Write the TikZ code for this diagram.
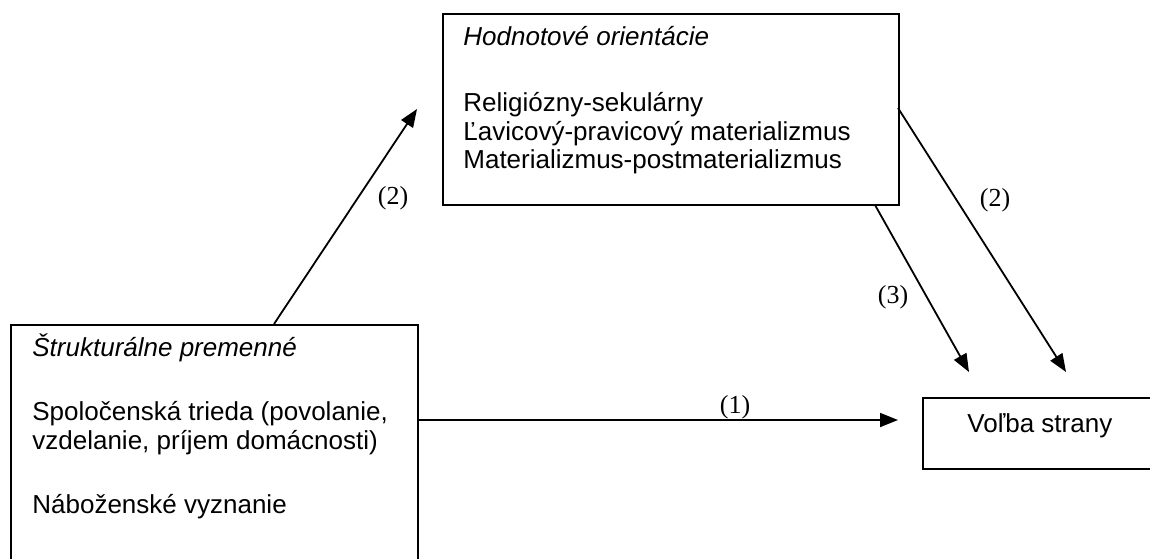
\documentclass[tikz,border=0pt]{standalone}
\usepackage{fontspec}
\setmainfont{Liberation Sans}
\newfontfamily\labfont{Liberation Serif}
\usetikzlibrary{arrows.meta}
\begin{document}
\begin{tikzpicture}[x=0.5pt,y=-0.5pt,
  box/.style={draw,line width=0.9pt,rectangle,inner sep=0pt,anchor=north west},
  txt/.style={anchor=base west,inner sep=0pt,font=\fontsize{13}{15}\selectfont},
  lab/.style={inner sep=0pt,font=\labfont\fontsize{13}{15}\selectfont},
  conn/.style={line width=0.9pt,-{Triangle[length=9pt,width=7pt]}}]
\useasboundingbox (0,0) rectangle (1150,558);
\begin{scope}
\clip (0,0) rectangle (1150,558);
\node[box,minimum width=228pt,minimum height=95.5pt] (top) at (442,13) {};
\node[box,minimum width=203.5pt,minimum height=130pt] (left) at (10,324) {};
\node[box,minimum width=130pt,minimum height=35.5pt] (vol) at (922,397) {};
\end{scope}
\node[txt] (t1) at (463,45) {\itshape Hodnotové orientácie};
\node[txt] (t2) at (463,111) {Religiózny-sekulárny};
\node[txt] (t3) at (463,140) {Ľavicový-pravicový materializmus};
\node[txt] (t4) at (463,168) {Materializmus-postmaterializmus};
\node[txt] (l1) at (32,356) {\itshape Štrukturálne premenné};
\node[txt] (l2) at (32,420) {Spoločenská trieda (povolanie,};
\node[txt] (l3) at (32,449) {vzdelanie, príjem domácnosti)};
\node[txt] (l4) at (32,513) {Náboženské vyznanie};
\node[txt] (v1) at (967,432) {Voľba strany};
\coordinate (a1s) at (274,324);
\coordinate (a1e) at (417,109);
\coordinate (a2s) at (898,108);
\coordinate (a2e) at (1066,372);
\coordinate (a3s) at (875,205);
\coordinate (a3e) at (969,372);
\coordinate (a4s) at (418,420);
\coordinate (a4e) at (898,420);
\draw[conn] (a1s) -- (a1e);
\draw[conn] (a2s) -- (a2e);
\draw[conn] (a3s) -- (a3e);
\draw[conn] (a4s) -- (a4e);
\node[lab] (n1) at (735,407) {(1)};
\node[lab] (n2) at (393,198) {(2)};
\node[lab] (n3) at (995,200) {(2)};
\node[lab] (n4) at (893,297) {(3)};
\end{tikzpicture}
\end{document}
